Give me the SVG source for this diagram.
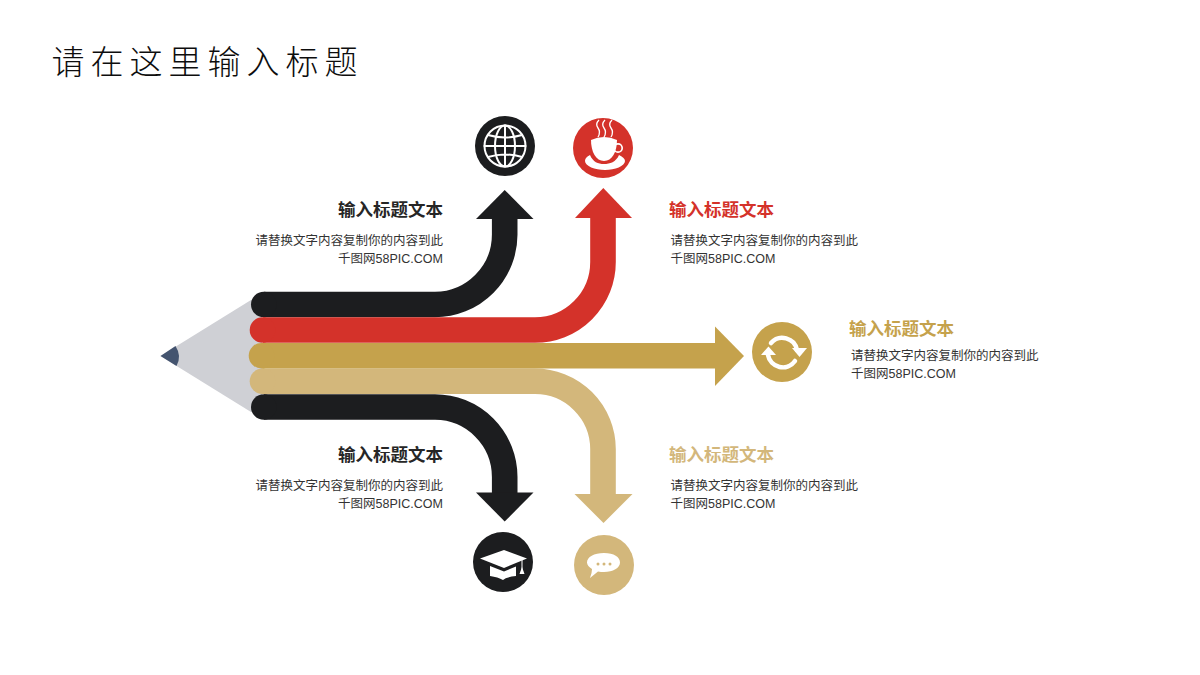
<svg xmlns="http://www.w3.org/2000/svg" width="1200" height="675" viewBox="0 0 1200 675">
<style>
text{font-family:"Liberation Sans","Noto Sans CJK SC",sans-serif}
.title{font-size:33px;letter-spacing:6px;fill:#0d0d0d;font-family:"Noto Sans CJK SC",sans-serif;font-weight:300}
.h{font-size:17.500px;font-weight:700}
.b{font-size:12.500px;fill:#333}
.e{text-anchor:end}
.line{fill:none;stroke-width:25.600}
.k{stroke:#1c1d1f}.r{stroke:#d4322a}.g{stroke:#c5a24c}.t{stroke:#d3b77b}
.fk{fill:#1c1d1f}.fr{fill:#d4322a}.fg{fill:#c5a24c}.ft{fill:#d3b77b}
.w{fill:none;stroke:#fff;stroke-linecap:round}
</style>
<rect width="1200" height="675" fill="#fff"/>
<text class="title" x="51.500" y="74">请在这里输入标题</text>
<g id="pencil">
<path d="M160.500 356L251 300H262V412H251Z" fill="#cfd0d5"/>
<path d="M160.500 356L175.500 346Q182 356 176.500 366Z" fill="#44546f"/>
</g>
<g id="connectors">
<path class="line k" d="M264 304.500H435A70 70 0 0 0 504.700 234V215"/>
<circle class="fk" cx="263.800" cy="304.500" r="12.800"/>
<path class="fk" d="M504.700 190L533.500 219H476Z"/>
<path class="line k" d="M264 407H435A70 70 0 0 1 504.700 477V496"/>
<circle class="fk" cx="263.800" cy="407" r="12.800"/>
<path class="fk" d="M504.700 521.500L533.500 492.500H476Z"/>
<path class="line t" d="M263 381.300H535A68 68 0 0 1 603 449V498"/>
<circle class="ft" cx="262.500" cy="381.300" r="12.800"/>
<path class="ft" d="M603.500 523L632.500 494H574.500Z"/>
<path class="line r" d="M263 330H535A68 68 0 0 0 603 262V214"/>
<circle class="fr" cx="262.500" cy="330" r="12.800"/>
<path class="fr" d="M603.300 188L632 218H575Z"/>
<path class="line g" d="M262 355.700H720"/>
<circle class="fg" cx="261.500" cy="355.700" r="12.800"/>
<path class="fg" d="M744 356L715 326.500V386Z"/>
</g>
<g id="node-globe">
<circle class="fk" cx="505" cy="146" r="30"/>
<g class="w" stroke-width="2">
<circle cx="505" cy="146" r="20.500"/>
<ellipse cx="505" cy="146" rx="10" ry="20.500"/>
<path d="M505 125.500V166.500M484.500 146H525.500M488 135Q505 140 522 135M488 157Q505 152 522 157"/>
</g>
</g>
<g id="node-cup">
<circle class="fr" cx="603" cy="148" r="30"/>
<path d="M599 120q-4 4 -1 8t0 9M605 120q-4 4 -1 8t0 9M612 120q-4 4 -1 8t0 9" fill="none" stroke="#fff" stroke-width="1.300"/>
<path d="M591 140Q604 134 617 140C617 152 612 161 604 161S591 152 591 140Z" fill="#fff"/>
<circle cx="618" cy="148" r="4.200" fill="none" stroke="#fff" stroke-width="1.700"/>
<path d="M590 155C593 162 598 164 604 164S616 162 619 155C623 157 625 159 625 161C625 166 615 170 605 170S585 166 585 161C585 159 586 157 590 155Z" fill="#fff"/>
</g>
<g id="node-refresh">
<circle class="fg" cx="782" cy="352" r="30"/>
<g class="w" stroke-width="4.500">
<path d="M771 343A15 15 0 0 1 797 350"/>
<path d="M795 361A15 15 0 0 1 768 355"/>
</g>
<path d="M792 348H807L799.500 357Z" fill="#fff"/>
<path d="M761 355H776L768.500 346.500Z" fill="#fff"/>
</g>
<g id="node-cap">
<circle class="fk" cx="503" cy="562" r="30"/>
<path d="M480 558.500L504 550L527 558.500L504 568Z" fill="#fff"/>
<path d="M490 566L504 571.500L516 566.500V576Q506 577 503 580Q498 577 490 576Z" fill="#fff"/>
<path d="M522 560V570" stroke="#fff" stroke-width="1"/>
<path d="M522 567L524.500 574H519.500Z" fill="#fff"/>
</g>
<g id="node-chat">
<circle class="ft" cx="604" cy="565" r="30"/>
<path d="M604 553C614 553 620 557 620 562.500C620 568 613 572 604 572Q601 572 598 571.500L590 578Q592 573 592 569C589 567 587 565 587 562.500C587 557 594 553 604 553Z" fill="#fff"/>
<g class="ft"><circle cx="598" cy="564" r="1.500"/><circle cx="604" cy="564" r="1.500"/><circle cx="610" cy="564" r="1.500"/></g>
</g>
<g id="label-top-left">
<text class="h e" x="443" y="216" fill="#262626">输入标题文本</text>
<text class="b e" x="443" y="244.500">请替换文字内容复制你的内容到此</text>
<text class="b e" x="443" y="262.500">千图网58PIC.COM</text>
</g>
<g id="label-top-right">
<text class="h" x="669" y="216" fill="#d4322a">输入标题文本</text>
<text class="b" x="670.500" y="244.500">请替换文字内容复制你的内容到此</text>
<text class="b" x="670.500" y="262.500">千图网58PIC.COM</text>
</g>
<g id="label-middle">
<text class="h" x="849" y="335" fill="#c5a24c">输入标题文本</text>
<text class="b" x="851" y="359.500">请替换文字内容复制你的内容到此</text>
<text class="b" x="851" y="378">千图网58PIC.COM</text>
</g>
<g id="label-bottom-left">
<text class="h e" x="443" y="461" fill="#262626">输入标题文本</text>
<text class="b e" x="443" y="489.500">请替换文字内容复制你的内容到此</text>
<text class="b e" x="443" y="507.500">千图网58PIC.COM</text>
</g>
<g id="label-bottom-right">
<text class="h" x="669" y="461" fill="#d3b77b">输入标题文本</text>
<text class="b" x="670.500" y="489.500">请替换文字内容复制你的内容到此</text>
<text class="b" x="670.500" y="507.500">千图网58PIC.COM</text>
</g>
</svg>
